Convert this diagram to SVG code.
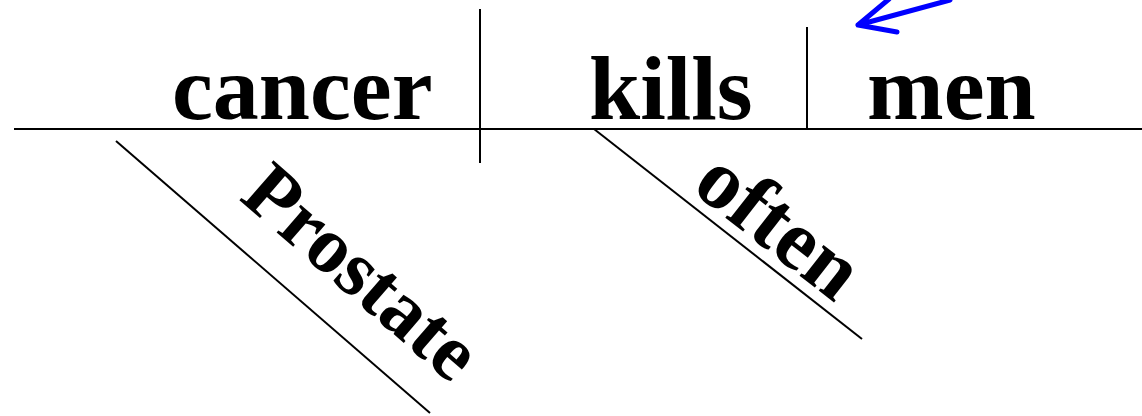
<svg xmlns="http://www.w3.org/2000/svg" width="1142" height="416" viewBox="0 0 1142 416">
<style>
.ln{stroke:#000;stroke-width:2;fill:none}
.w{font-family:"Liberation Serif","Times New Roman",serif;font-weight:bold;fill:#000}
.h{font-size:92px}
.d{font-size:80px}
.arr{stroke:#0000ff;stroke-width:5;fill:none;stroke-linecap:round;stroke-linejoin:round}
</style>
<rect width="1142" height="416" fill="#fff"/>
<g id="connectors">
<path class="ln" d="M14 129H1142"/>
<path class="ln" d="M480 9V163"/>
<path class="ln" d="M807 27V129"/>
<path class="ln" d="M116 141L430 413"/>
<path class="ln" d="M594 129L862 339"/>
<path class="arr" d="M950 0L858 25M889 -1L858 25L897 32"/>
</g>
<g id="cancer"><text class="w h" x="172" y="119">cancer</text></g>
<g id="kills"><text class="w h" x="589" y="119">kills</text></g>
<g id="men"><text class="w h" x="867" y="119">men</text></g>
<g id="prostate"><text class="w d" transform="translate(238 199) rotate(41)">Prostate</text></g>
<g id="often"><text class="w d" style="font-size:85px" transform="translate(690 190) rotate(38)">often</text></g>
</svg>
